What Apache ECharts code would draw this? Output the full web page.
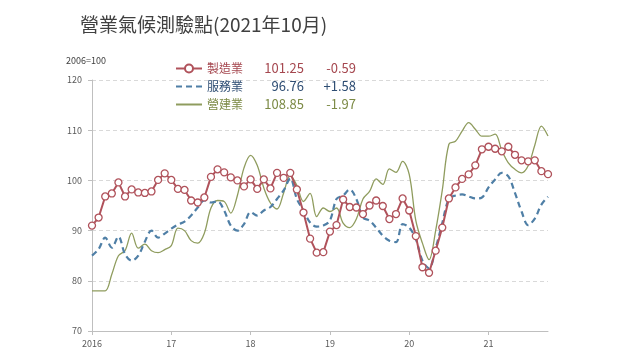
<!DOCTYPE html>
<html>
<head>
<meta charset="utf-8">
<script src="https://cdn.jsdelivr.net/npm/echarts@6/dist/echarts.min.js"></script>
<style>
html,body{margin:0;padding:0;background:#fff;}
#chart{width:640px;height:360px;}
</style>
</head>
<body>
<div id="chart"></div>
<script>
// Year tick labels (one per January)
const yearLabels = ['2016', '17', '18', '19', '20', '21'];
// Months Jan 2016 .. Oct 2021
const categories = [];
for (let y = 2016; y <= 2021; y++) {
  for (let m = 1; m <= 12; m++) {
    if (y === 2021 && m > 10) break;
    categories.push(y + '-' + (m < 10 ? '0' + m : m));
  }
}
const seriesNames = ['製造業', '服務業', '營建業'];
const manufacturing = [
  91.0, 92.6, 96.8, 97.4, 99.6, 96.8, 98.2, 97.6, 97.5, 97.8, 100.1, 101.4,
  100.1, 98.3, 98.1, 96.0, 95.6, 96.6, 100.7, 102.2, 101.6, 100.6, 100.0, 98.8,
  100.2, 98.3, 100.2, 98.4, 101.5, 100.5, 101.5, 98.2, 93.6, 88.4, 85.6, 85.7,
  89.8, 91.1, 96.2, 94.7, 94.6, 93.3, 95.0, 96.0, 94.9, 92.3, 93.3, 96.4,
  94.0, 88.9, 82.7, 81.6, 86.0, 90.6, 96.4, 98.6, 100.3, 101.2, 103.0, 106.2,
  106.7, 106.3, 105.8, 106.7, 105.1, 104.0, 103.8, 104.0, 101.84, 101.25
];
const services = [
  85.0, 86.3, 88.6, 86.6, 88.8, 85.3, 84.0, 85.0, 87.8, 90.0, 88.6, 89.4,
  90.4, 91.2, 91.8, 93.0, 94.6, 96.0, 95.6, 95.8, 94.0, 91.0, 90.0, 91.3,
  93.7, 93.0, 94.0, 94.7, 96.3, 98.0, 100.4, 96.3, 94.0, 91.6, 90.8, 91.0,
  92.0, 96.3, 97.0, 98.2, 96.3, 92.6, 92.0, 90.6, 89.0, 88.0, 87.7, 91.3,
  90.6, 88.3, 84.0, 82.5, 86.5, 91.5, 96.3, 97.0, 97.2, 96.8, 96.4, 96.6,
  98.6, 100.2, 101.5, 100.8, 97.5, 93.8, 91.1, 92.4, 95.18, 96.76
];
const construction = [
  78.0, 78.0, 78.0, 81.3, 85.0, 86.0, 89.5, 86.5, 87.3, 86.0, 85.6, 86.2,
  87.0, 90.5, 90.0, 88.0, 87.5, 89.5, 94.5, 96.0, 95.8, 93.5, 97.0, 102.5,
  105.0, 103.0, 98.5, 95.5, 94.3, 97.5, 101.0, 99.0, 95.8, 97.4, 92.8, 94.5,
  93.8, 94.5, 91.5, 90.6, 92.3, 96.3, 97.8, 100.3, 99.2, 102.3, 101.6, 103.8,
  101.2, 92.0, 87.5, 84.2, 90.0, 98.0, 107.2, 107.8, 109.8, 111.5, 110.2, 108.8,
  108.8, 109.2, 106.0, 103.5, 102.2, 101.5, 102.9, 107.0, 110.82, 108.85
];
const yTicks = [70, 80, 90, 100, 110, 120];

const colors = ['#b0525b', '#4f7fa6', '#8f9c5e'];
const textColors = ['#a5474f', '#2e4d73', '#7c8a45'];
const allData = [manufacturing, services, construction];

function fmtChange(arr) {
  const d = arr[arr.length - 1] - arr[arr.length - 2];
  const s = d.toFixed(2);
  return d > 0 ? '+' + s : s;
}
const legendInfo = {};
seriesNames.forEach((n, i) => {
  legendInfo[n] = { i: i, v: allData[i][allData[i].length - 1].toFixed(2), c: fmtChange(allData[i]) };
});

const FONT = '"Noto Sans CJK TC", "Noto Sans", sans-serif';
const rich = {};
textColors.forEach((c, i) => {
  rich['n' + i] = { color: c, fontSize: 12, width: 52, fontFamily: FONT };
  rich['v' + i] = { color: c, fontSize: 13, width: 45, align: 'right', fontFamily: FONT };
  rich['c' + i] = { color: c, fontSize: 13, width: 52, align: 'right', fontFamily: FONT };
});

const chart = echarts.init(document.getElementById('chart'), null, { renderer: 'canvas' });
chart.setOption({
  backgroundColor: '#ffffff',
  animation: false,
  title: [
    { text: '營業氣候測驗點(2021年10月)', left: 75, top: 10,
      textStyle: { fontSize: 19, fontWeight: 'normal', color: '#404040', fontFamily: FONT } },
    { text: '2006=100', left: 61, top: 51,
      textStyle: { fontSize: 9, fontWeight: 'normal', color: '#404040', fontFamily: FONT } }
  ],
  legend: {
    orient: 'vertical', left: 175, top: 62, padding: 0,
    itemWidth: 26, itemHeight: 10, itemGap: 5,
    data: [
      { name: seriesNames[0] },
      { name: seriesNames[1], itemStyle: { opacity: 0 } },
      { name: seriesNames[2], itemStyle: { opacity: 0 } }
    ],
    formatter: function (name) {
      const o = legendInfo[name];
      return '{n' + o.i + '|' + name + '}{v' + o.i + '|' + o.v + '}{c' + o.i + '|' + o.c + '}';
    },
    textStyle: { rich: rich, fontFamily: FONT }
  },
  grid: { left: 92, right: 92, top: 80, bottom: 29, containLabel: false },
  xAxis: {
    type: 'category', data: categories, boundaryGap: false,
    axisLine: { lineStyle: { color: '#bfbfbf', width: 1 } },
    axisTick: { interval: function (i) { return i % 12 === 0; }, length: 4, lineStyle: { color: '#bfbfbf' } },
    axisLabel: {
      interval: function (i) { return i % 12 === 0; },
      formatter: function (v, i) { return yearLabels[Math.floor(i / 12)]; },
      color: '#595959', fontSize: 9, margin: 8, fontFamily: FONT
    },
    splitLine: { show: false }
  },
  yAxis: {
    type: 'value', min: yTicks[0], max: yTicks[yTicks.length - 1], interval: 10,
    axisLine: { show: true, lineStyle: { color: '#bfbfbf', width: 1 } },
    axisTick: { show: true, length: 4, lineStyle: { color: '#bfbfbf' } },
    axisLabel: { color: '#595959', fontSize: 9, margin: 10, fontFamily: FONT },
    splitLine: { show: true, lineStyle: { color: '#d9d9d9', type: [4, 3], width: 1 } }
  },
  series: [
    { name: seriesNames[0], type: 'line', data: manufacturing, z: 5,
      symbol: 'circle', symbolSize: 7, showAllSymbol: true,
      itemStyle: { color: '#ffffff', borderColor: colors[0], borderWidth: 1.3 },
      lineStyle: { color: colors[0], width: 2 } },
    { name: seriesNames[1], type: 'line', data: services, z: 4, smooth: 0.35,
      symbol: 'none', itemStyle: { color: colors[1] },
      lineStyle: { color: colors[1], width: 2.2, type: [6, 4] } },
    { name: seriesNames[2], type: 'line', data: construction, z: 3, smooth: 0.35,
      symbol: 'none', itemStyle: { color: colors[2] },
      lineStyle: { color: colors[2], width: 1.3 } }
  ]
});
</script>
</body>
</html>
